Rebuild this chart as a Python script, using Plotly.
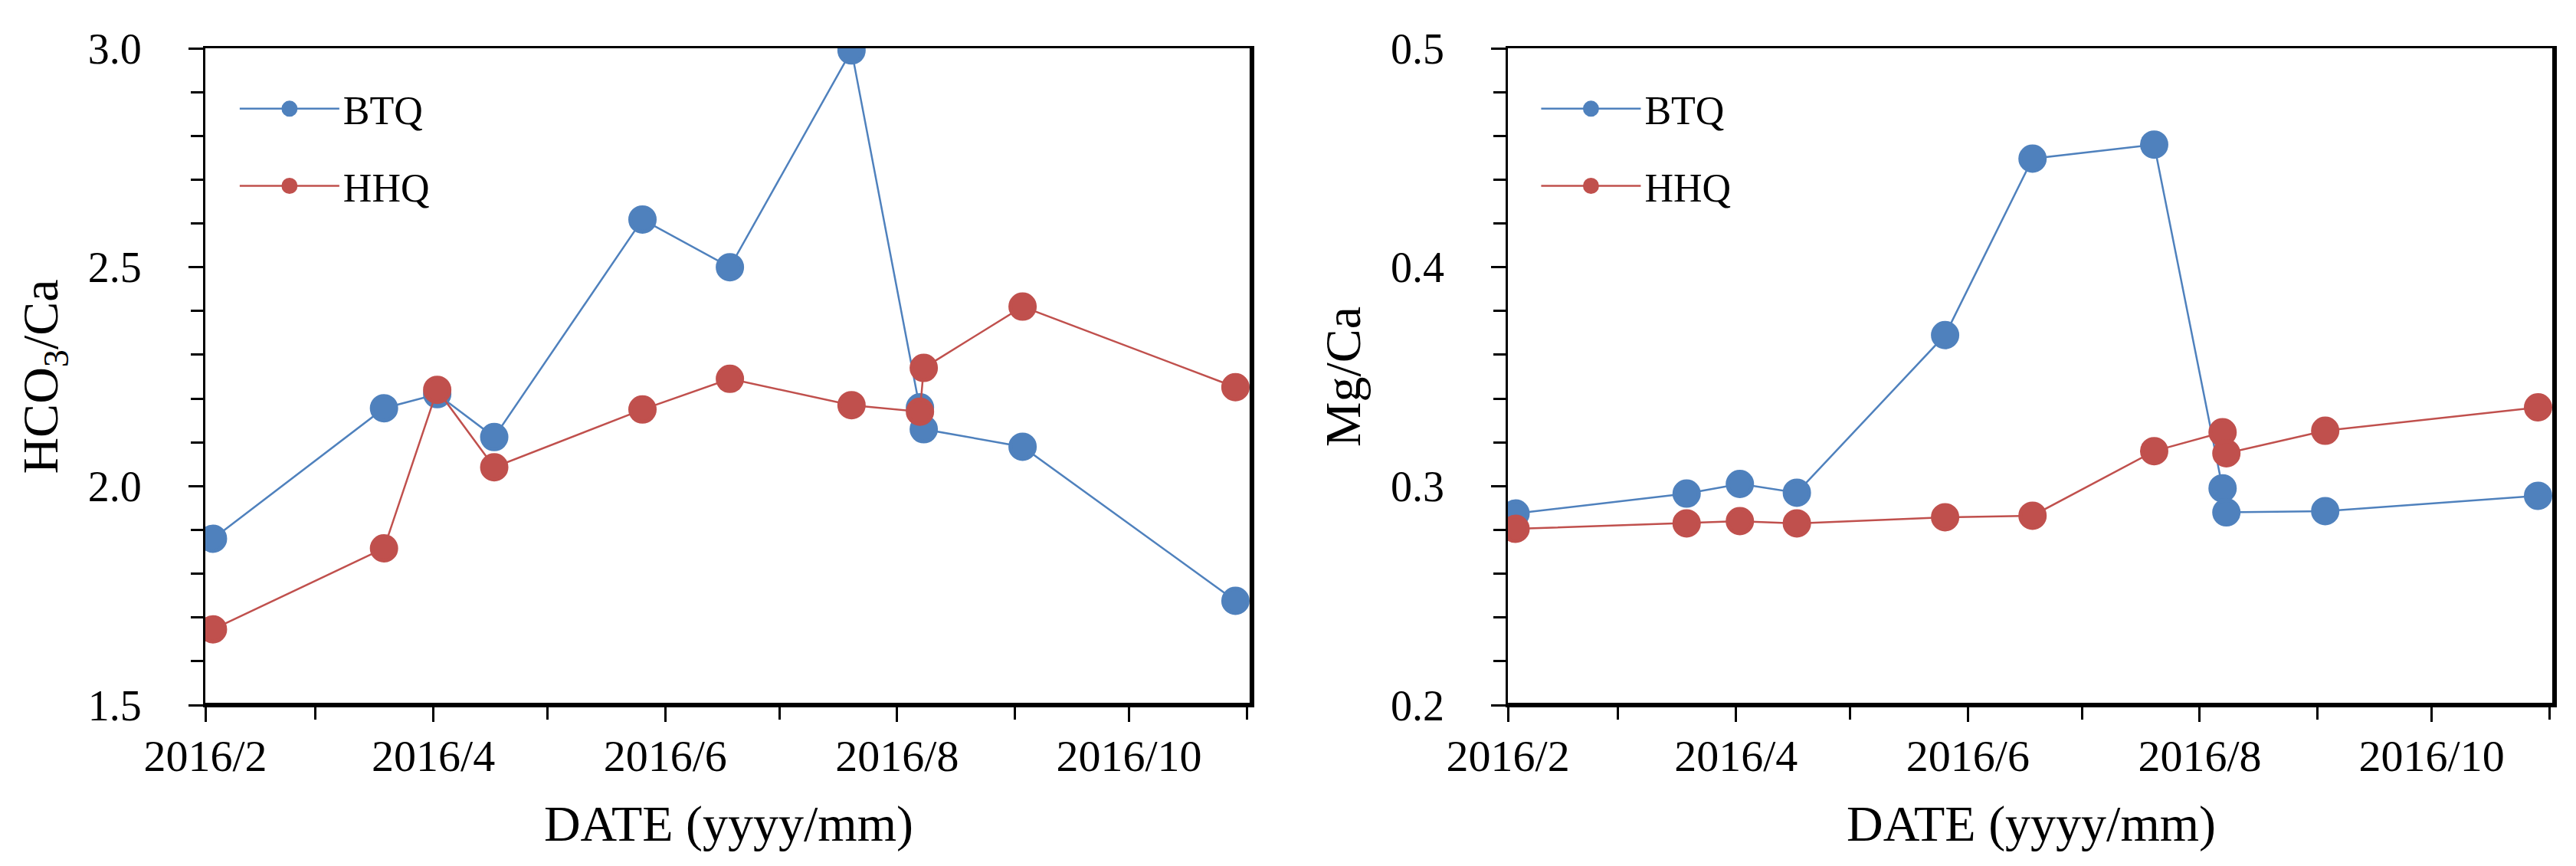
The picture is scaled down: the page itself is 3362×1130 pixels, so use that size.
import plotly.graph_objects as go
from plotly.subplots import make_subplots

# sampling dates (two samples taken on consecutive days in early August)
dates = ["2016-02-03", "2016-03-19", "2016-04-02", "2016-04-17", "2016-05-26",
         "2016-06-18", "2016-07-20", "2016-08-07", "2016-08-08", "2016-09-03",
         "2016-10-29"]

# HCO3/Ca ratio
btq_hco3_ca = [1.88, 2.178, 2.21, 2.112, 2.609, 2.50, 2.995, 2.18, 2.13, 2.09, 1.738]
hhq_hco3_ca = [1.673, 1.858, 2.22, 2.043, 2.175, 2.245, 2.185, 2.17, 2.27, 2.41, 2.226]

# Mg/Ca ratio
btq_mg_ca = [0.2875, 0.2966, 0.301, 0.297, 0.369, 0.4496, 0.456, 0.299, 0.288, 0.2886, 0.2956]
hhq_mg_ca = [0.2805, 0.283, 0.284, 0.283, 0.2858, 0.2865, 0.316, 0.3246, 0.315, 0.3253, 0.336]

BLUE = "#4F81BD"
RED = "#C0504D"
FONT = "Liberation Serif"

fig = make_subplots(rows=1, cols=2, horizontal_spacing=0.109)


def add_series(col, y, name, color, legend):
    # outline in the same colour so the legend symbol comes out a bit bigger
    fig.add_trace(go.Scatter(
        x=dates, y=y, name=name, mode="lines+markers",
        line=dict(color=color, width=2.5),
        marker=dict(color=color, size=32, line=dict(color=color, width=5)),
        legend=legend, legendgroup=legend + name,
    ), row=1, col=col)


add_series(1, btq_hco3_ca, "BTQ", BLUE, "legend")
add_series(1, hhq_hco3_ca, "HHQ", RED, "legend")
add_series(2, btq_mg_ca, "BTQ", BLUE, "legend2")
add_series(2, hhq_mg_ca, "HHQ", RED, "legend2")

xaxis_style = dict(
    type="date", range=["2016-02-01", "2016-11-02 08:00"],
    tick0="2016-02-01", dtick="M2", tickformat="%Y/%-m",
    ticks="outside", ticklen=19, tickwidth=3, tickcolor="black",
    minor=dict(dtick="M1", ticks="outside", ticklen=16, tickwidth=3, tickcolor="black"),
    showline=True, linecolor="black", linewidth=3, mirror=True,
    showgrid=False, zeroline=False, automargin=False,
    tickfont=dict(family=FONT, size=58, color="black"),
    ticklabelstandoff=-6,
    title=dict(text="DATE (yyyy/mm)", font=dict(family=FONT, size=66, color="black"),
               standoff=34),
)
fig.update_xaxes(**xaxis_style)

yaxis_style = dict(
    ticks="outside", ticklen=19, tickwidth=3, tickcolor="black",
    showline=True, linecolor="black", linewidth=3, mirror=True,
    showgrid=False, zeroline=False, automargin=False,
    tickfont=dict(family=FONT, size=56, color="black"),
    ticklabelstandoff=50,
)
fig.update_yaxes(**yaxis_style)
fig.update_yaxes(range=[1.5, 3.0], dtick=0.5, tickformat=".1f",
                 minor=dict(dtick=0.1, ticks="outside", ticklen=16, tickwidth=3, tickcolor="black"),
                 title=dict(text="HCO<sub>3</sub>/Ca", font=dict(family=FONT, size=66, color="black"),
                            standoff=18),
                 row=1, col=1)
fig.update_yaxes(range=[0.2, 0.5], dtick=0.1, tickformat=".1f",
                 minor=dict(dtick=0.02, ticks="outside", ticklen=16, tickwidth=3, tickcolor="black"),
                 title=dict(text="Mg/Ca", font=dict(family=FONT, size=66, color="black"),
                            standoff=18),
                 row=1, col=2)

# heavier bottom and right frame edges, as in the original
for xr, yr in (("x", "y"), ("x2", "y2")):
    fig.add_shape(type="line", xref=xr + " domain", yref=yr + " domain",
                  x0=0, x1=1, y0=0, y1=0, line=dict(color="black", width=6))
    fig.add_shape(type="line", xref=xr + " domain", yref=yr + " domain",
                  x0=1, x1=1, y0=0, y1=1, line=dict(color="black", width=6))

legend_style = dict(
    xanchor="left", yanchor="top", bgcolor="rgba(0,0,0,0)",
    font=dict(family=FONT, size=52, color="black"),
    itemwidth=130, traceorder="grouped", tracegroupgap=30,
)
fig.update_layout(
    width=3362, height=1130,
    margin=dict(l=260, r=36, t=55, b=218),
    paper_bgcolor="white", plot_bgcolor="white",
    showlegend=True,
    legend=dict(x=0.013, y=0.955, **legend_style),
    legend2=dict(x=0.567, y=0.955, **legend_style),
)

fig.write_html("out.html")
